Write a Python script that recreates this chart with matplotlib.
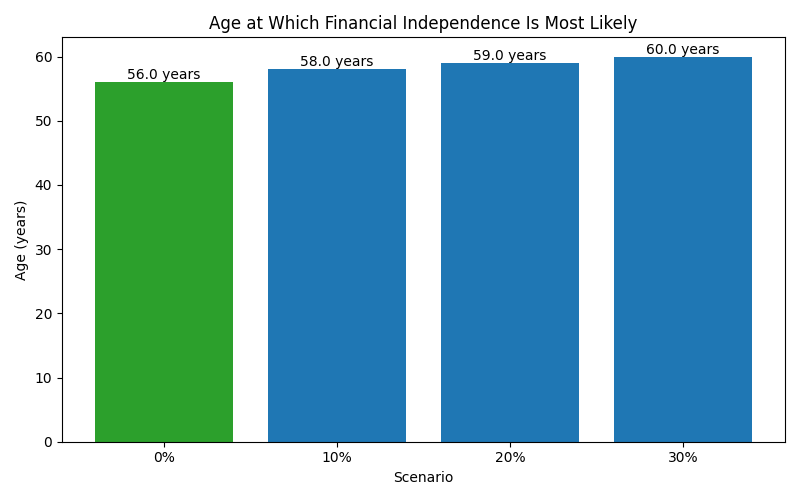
import matplotlib
matplotlib.use("Agg")
import matplotlib.pyplot as plt

scenarios = ["0%", "10%", "20%", "30%"]
ages = [56.0, 58.0, 59.0, 60.0]
colors = ["#2ca02c", "#1f77b4", "#1f77b4", "#1f77b4"]

fig, ax = plt.subplots(figsize=(8, 5), dpi=100)
bars = ax.bar(scenarios, ages, color=colors)
for b, a in zip(bars, ages):
    ax.text(b.get_x() + b.get_width() / 2, b.get_height(), f"{a:.1f} years",
            ha="center", va="bottom")
ax.set_title("Age at Which Financial Independence Is Most Likely")
ax.set_xlabel("Scenario")
ax.set_ylabel("Age (years)")
fig.tight_layout()
fig.savefig("out.png")
